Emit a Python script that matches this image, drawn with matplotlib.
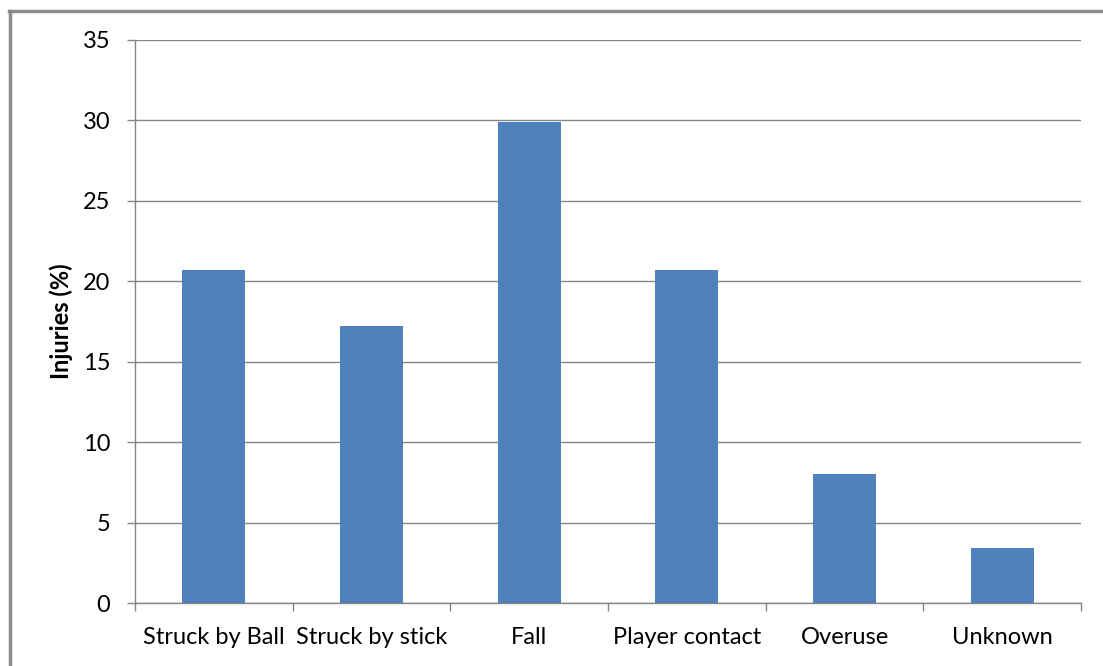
import matplotlib.pyplot as plt
from matplotlib.lines import Line2D

categories = ['Struck by Ball', 'Struck by stick', 'Fall', 'Player contact', 'Overuse', 'Unknown']
injuries = [20.7, 17.2, 29.9, 20.7, 8.0, 3.4]
y_ticks = [0, 5, 10, 15, 20, 25, 30, 35]

plt.rcParams['font.family'] = ['Lato', 'DejaVu Sans']

fig = plt.figure(figsize=(11.03, 6.66), dpi=100)
ax = fig.add_axes([135 / 1103, 1 - 603 / 666, 946 / 1103, 563 / 666])

x = list(range(len(categories)))
ax.bar(x, injuries, width=0.4, color='#4F81BD', zorder=3)

ax.set_xlim(-0.5, len(categories) - 0.5)
ax.set_ylim(0, 35)
ax.set_yticks(y_ticks)
ax.set_yticklabels([str(t) for t in y_ticks], fontsize=17)
ax.set_xticks(x)
ax.set_xticklabels(categories, fontsize=17)
ax.tick_params(axis='x', length=0, pad=17)
ax.tick_params(axis='y', length=5.8, width=1, color='#868686', pad=12)

# category boundary ticks on x axis
ax.set_xticks([i - 0.5 for i in range(len(categories) + 1)], minor=True)
ax.tick_params(axis='x', which='minor', length=5.8, width=1, color='#868686', direction='out')

ax.grid(axis='y', color='#868686', linewidth=1, zorder=0)
for s in ['top', 'right']:
    ax.spines[s].set_visible(False)
for s in ['left', 'bottom']:
    ax.spines[s].set_color('#868686')
    ax.spines[s].set_linewidth(1)

ax.set_ylabel('Injuries (%)', fontsize=17, fontweight='bold', labelpad=7)

# outer frame (left and top edges visible)
fig.add_artist(Line2D([9.5 / 1103, 9.5 / 1103], [0, 1 - 11 / 666], transform=fig.transFigure,
                      color='#8C8C8C', linewidth=2.5))
fig.add_artist(Line2D([8.5 / 1103, 1], [1 - 11 / 666, 1 - 11 / 666], transform=fig.transFigure,
                      color='#8C8C8C', linewidth=2.5))

plt.savefig('out.png', dpi=100)
plt.close()
